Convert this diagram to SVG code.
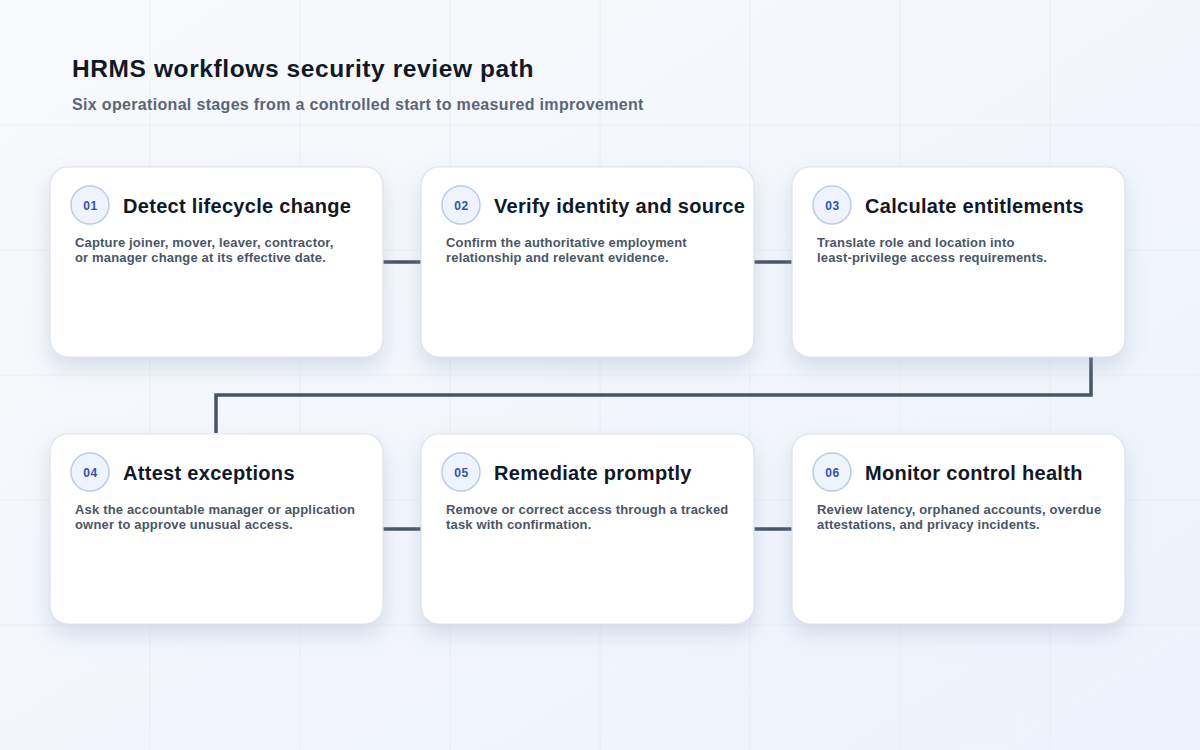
<svg xmlns="http://www.w3.org/2000/svg" width="1200" height="750" viewBox="0 0 1200 750">
<defs>
<linearGradient id="bg" x1="0" y1="0" x2="1" y2="1">
<stop offset="0" stop-color="#f8f9fb"/>
<stop offset="1" stop-color="#edf3fc"/>
</linearGradient>
<filter id="sh" x="-20%" y="-20%" width="140%" height="160%">
<feDropShadow dx="0" dy="10" stdDeviation="10" flood-color="#8a9ab8" flood-opacity="0.28"/>
</filter>
</defs>
<style>
.grid{stroke:#e3e8f0;stroke-width:1;opacity:0.6}
.card{fill:#ffffff;stroke:#dde3ec;stroke-width:1.2;filter:url(#sh)}
.badge{fill:#eef3fd;stroke:#bccbe6;stroke-width:1.5}
.num{font-family:"Liberation Sans",Arial,sans-serif;font-weight:700;font-size:12px;fill:#2d56a6;text-anchor:middle;letter-spacing:0.5px}
.ttl{font-family:"Liberation Sans",Arial,sans-serif;font-weight:700;font-size:20px;fill:#111827;letter-spacing:0.3px}
.desc{font-family:"Liberation Sans",Arial,sans-serif;font-weight:700;font-size:13px;fill:#4b5565;letter-spacing:0.17px}
.conn{fill:none;stroke:#475467;stroke-width:3.5}
</style>
<rect width="1200" height="750" fill="url(#bg)"/>
<g id="grid">
<path class="grid" d="M150 0V750M300 0V750M450 0V750M600 0V750M750 0V750M900 0V750M1050 0V750M0 125H1200M0 250H1200M0 375H1200M0 500H1200M0 625H1200"/>
</g>
<text x="72" y="77" font-family="Liberation Sans,Arial,sans-serif" font-weight="700" font-size="24.5" letter-spacing="0.6" fill="#111827">HRMS workflows security review path</text>
<text x="72" y="109.5" font-family="Liberation Sans,Arial,sans-serif" font-weight="700" font-size="16" letter-spacing="0.33" fill="#5b6577">Six operational stages from a controlled start to measured improvement</text>
<g id="connectors">
<path class="conn" d="M383 262H421"/>
<path class="conn" d="M754 262H792"/>
<path class="conn" d="M1091 357V395H216V433"/>
<path class="conn" d="M383 529H421"/>
<path class="conn" d="M754 529H792"/>
</g>
<g id="node1">
<rect class="card" x="50" y="167" width="333" height="190" rx="18"/>
<circle class="badge" cx="90" cy="205" r="19"/>
<text class="num" x="90.5" y="209.5">01</text>
<text class="ttl" x="123" y="213">Detect lifecycle change</text>
<text class="desc" x="75" y="247">Capture joiner, mover, leaver, contractor,</text>
<text class="desc" x="75" y="262">or manager change at its effective date.</text>
</g>
<g id="node2">
<rect class="card" x="421" y="167" width="333" height="190" rx="18"/>
<circle class="badge" cx="461" cy="205" r="19"/>
<text class="num" x="461.5" y="209.5">02</text>
<text class="ttl" x="494" y="213">Verify identity and source</text>
<text class="desc" x="446" y="247">Confirm the authoritative employment</text>
<text class="desc" x="446" y="262">relationship and relevant evidence.</text>
</g>
<g id="node3">
<rect class="card" x="792" y="167" width="333" height="190" rx="18"/>
<circle class="badge" cx="832" cy="205" r="19"/>
<text class="num" x="832.5" y="209.5">03</text>
<text class="ttl" x="865" y="213">Calculate entitlements</text>
<text class="desc" x="817" y="247">Translate role and location into</text>
<text class="desc" x="817" y="262">least-privilege access requirements.</text>
</g>
<g id="node4">
<rect class="card" x="50" y="434" width="333" height="190" rx="18"/>
<circle class="badge" cx="90" cy="472" r="19"/>
<text class="num" x="90.5" y="476.5">04</text>
<text class="ttl" x="123" y="480">Attest exceptions</text>
<text class="desc" x="75" y="514">Ask the accountable manager or application</text>
<text class="desc" x="75" y="529">owner to approve unusual access.</text>
</g>
<g id="node5">
<rect class="card" x="421" y="434" width="333" height="190" rx="18"/>
<circle class="badge" cx="461" cy="472" r="19"/>
<text class="num" x="461.5" y="476.5">05</text>
<text class="ttl" x="494" y="480">Remediate promptly</text>
<text class="desc" x="446" y="514">Remove or correct access through a tracked</text>
<text class="desc" x="446" y="529">task with confirmation.</text>
</g>
<g id="node6">
<rect class="card" x="792" y="434" width="333" height="190" rx="18"/>
<circle class="badge" cx="832" cy="472" r="19"/>
<text class="num" x="832.5" y="476.5">06</text>
<text class="ttl" x="865" y="480">Monitor control health</text>
<text class="desc" x="817" y="514">Review latency, orphaned accounts, overdue</text>
<text class="desc" x="817" y="529">attestations, and privacy incidents.</text>
</g>
</svg>
